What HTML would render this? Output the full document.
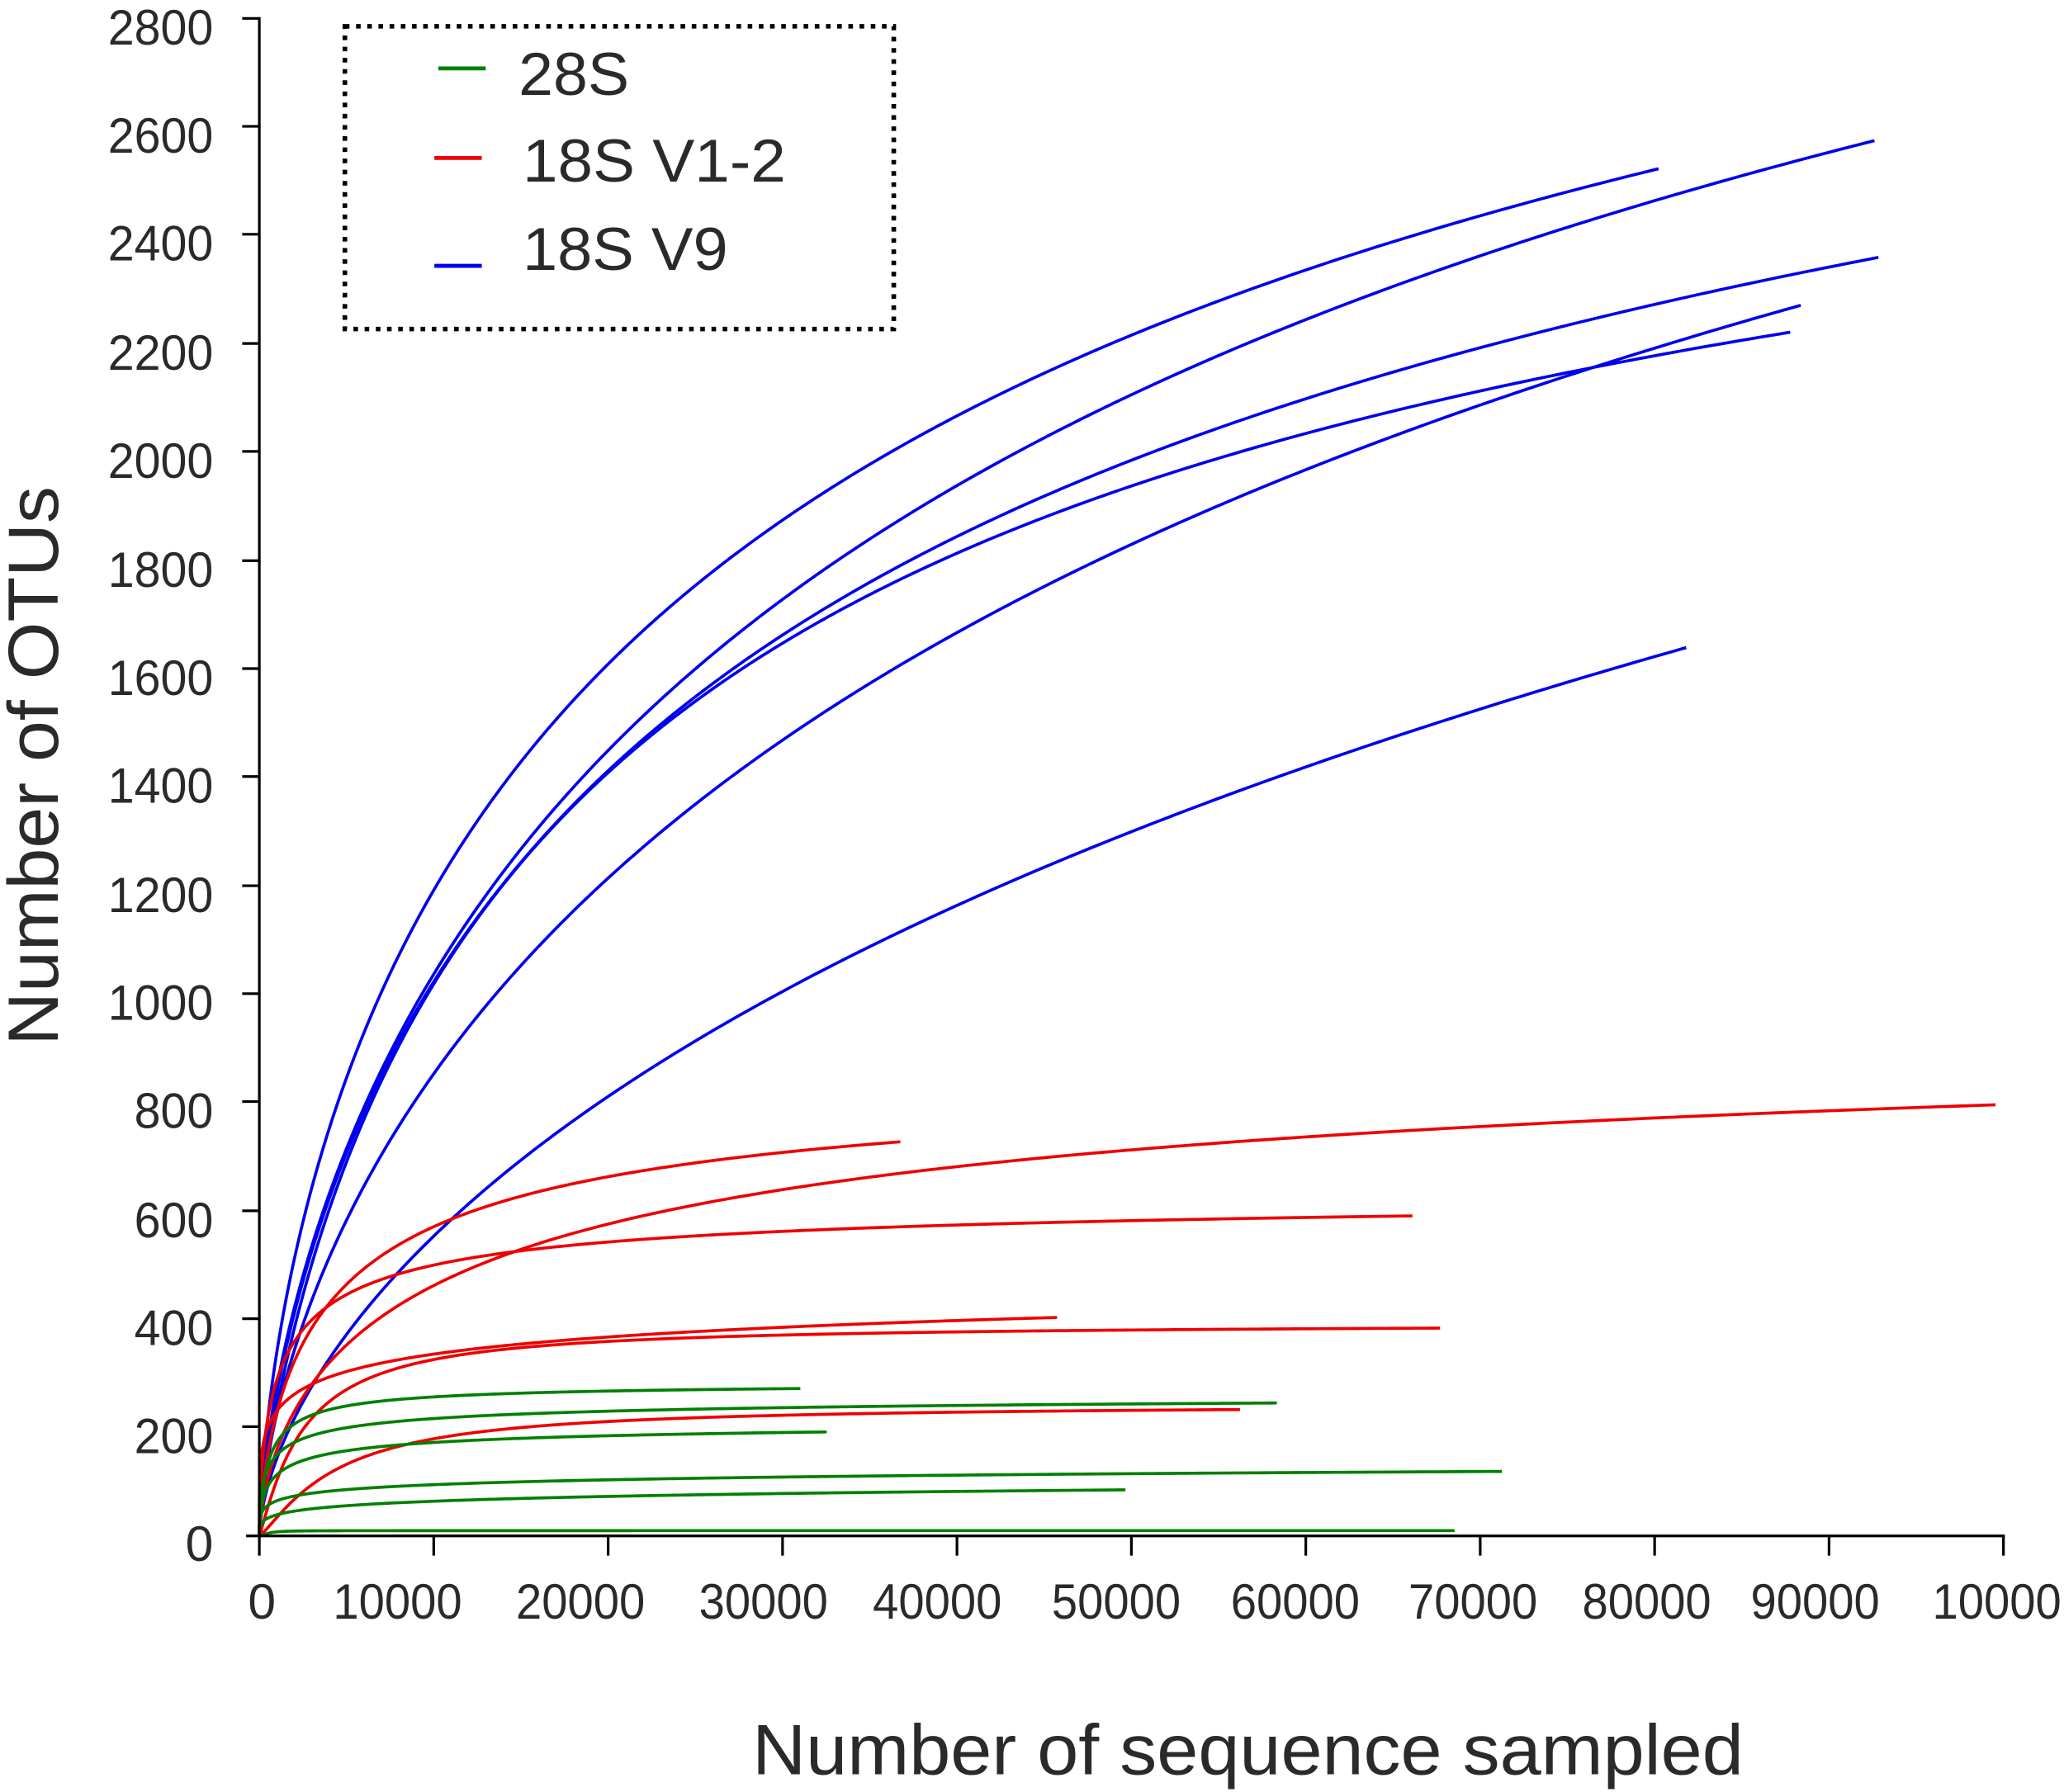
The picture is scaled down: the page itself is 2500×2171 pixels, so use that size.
<!DOCTYPE html>
<html><head><meta charset="utf-8"><style>
html,body{margin:0;padding:0;background:#fff;}
svg{display:block;}
text{font-family:"Liberation Sans",Arial,sans-serif;fill:#2a2a2a;}
</style></head><body>
<svg id="s" width="2500" height="2171" viewBox="0 0 1568 1361.6" preserveAspectRatio="none" xmlns="http://www.w3.org/2000/svg">
<rect width="1568" height="1362" fill="#fff"/>
<g id="curves" fill="none" stroke-width="2.3" stroke-linejoin="round" stroke-linecap="butt">
<polyline stroke="#0000ee" points="197,1167 221,972 261,822 300,738 356,632 412,553 468,508 552,436 664,352 804,276 944,220 1066,178 1260,128"/>
<polyline stroke="#0000ee" points="197,1167 230,972 300,794 356,699 440,587 535,497 636,424 720,374 832,318 944,268 1066,209 1250,155 1424,107"/>
<polyline stroke="#0000ee" points="197,1167 233,972 328,738 412,632 496,548 580,486 664,441 748,405 860,360 972,318 1066,284 1200,245 1427,195"/>
<polyline stroke="#0000ee" points="197,1167 234,974 328,749 412,646 496,559 580,497 692,436 804,388 916,349 1066,315 1190,285 1360,252"/>
<polyline stroke="#0000ee" points="197,1167 244,972 328,822 412,710 496,632 580,564 664,514 776,458 888,408 1000,363 1066,329 1190,282 1280,255 1368,232"/>
<polyline stroke="#0000ee" points="197,1167 300,972 356,912 440,844 524,791 608,744 692,704 804,660 916,620 1066,553 1170,523 1281,492"/>
<polyline stroke="#ee0000" points="197,1167 220,1040 245,995 272,972 311,945 356,920 440,892 552,875 684,868"/>
<polyline stroke="#ee0000" points="197,1167 250,1030 300,995 356,972 423,945 524,917 664,889 804,872 1066,854 1300,845 1516,840"/>
<polyline stroke="#ee0000" points="197,1167 225,1015 255,990 300,972 356,956 423,945 580,934 804,928 1073,924"/>
<polyline stroke="#ee0000" points="197,1167 225,1060 260,1040 330,1030 450,1018 600,1008 803,1001"/>
<polyline stroke="#ee0000" points="197,1167 250,1065 300,1040 380,1025 500,1018 700,1014 900,1011 1094,1009"/>
<polyline stroke="#ee0000" points="197,1167 260,1115 320,1095 400,1085 500,1078 700,1073 942,1071"/>
<polyline stroke="#008000" points="197,1167 220,1085 260,1068 330,1062 450,1058 608,1055"/>
<polyline stroke="#008000" points="197,1167 240,1090 300,1080 400,1074 600,1070 970,1066"/>
<polyline stroke="#008000" points="197,1167 230,1110 280,1100 400,1093 628,1088"/>
<polyline stroke="#008000" points="197,1167 250,1133 350,1127 600,1123 1141,1118"/>
<polyline stroke="#008000" points="197,1167 250,1145 350,1140 600,1135 855,1132"/>
<polyline stroke="#008000" points="197,1167 210,1164 400,1163 1105,1163"/>
</g>
<g stroke="#000" stroke-width="2" fill="none">
<line x1="197" y1="13" x2="197" y2="1168"/>
<line x1="187" y1="1167" x2="1523" y2="1167"/>
<path d="M184,14H197M184,96H197M184,178H197M184,261H197M184,343H197M184,426H197M184,508H197M184,590H197M184,673H197M184,755H197M184,837H197M184,920H197M184,1002H197M184,1084H197"/>
<path d="M197,1167V1182M329.5,1167V1182M462,1167V1182M594.5,1167V1182M727,1167V1182M859.5,1167V1182M992,1167V1182M1124.5,1167V1182M1257,1167V1182M1389.5,1167V1182M1522,1167V1182"/>
</g>
<g font-size="38" text-anchor="end">
<text x="162" y="34" textLength="80" lengthAdjust="spacingAndGlyphs">2800</text>
<text x="162" y="116" textLength="80" lengthAdjust="spacingAndGlyphs">2600</text>
<text x="162" y="198" textLength="80" lengthAdjust="spacingAndGlyphs">2400</text>
<text x="162" y="281" textLength="80" lengthAdjust="spacingAndGlyphs">2200</text>
<text x="162" y="363" textLength="80" lengthAdjust="spacingAndGlyphs">2000</text>
<text x="162" y="446" textLength="80" lengthAdjust="spacingAndGlyphs">1800</text>
<text x="162" y="528" textLength="80" lengthAdjust="spacingAndGlyphs">1600</text>
<text x="162" y="610" textLength="80" lengthAdjust="spacingAndGlyphs">1400</text>
<text x="162" y="693" textLength="80" lengthAdjust="spacingAndGlyphs">1200</text>
<text x="162" y="775" textLength="80" lengthAdjust="spacingAndGlyphs">1000</text>
<text x="162" y="857" textLength="60" lengthAdjust="spacingAndGlyphs">800</text>
<text x="162" y="940" textLength="60" lengthAdjust="spacingAndGlyphs">600</text>
<text x="162" y="1022" textLength="60" lengthAdjust="spacingAndGlyphs">400</text>
<text x="162" y="1104" textLength="60" lengthAdjust="spacingAndGlyphs">200</text>
<text x="162" y="1186">0</text>
</g>
<g font-size="38" text-anchor="middle">
<text x="199" y="1230">0</text>
<text x="302" y="1230" textLength="98" lengthAdjust="spacingAndGlyphs">10000</text>
<text x="441" y="1230" textLength="98" lengthAdjust="spacingAndGlyphs">20000</text>
<text x="580" y="1230" textLength="98" lengthAdjust="spacingAndGlyphs">30000</text>
<text x="712" y="1230" textLength="98" lengthAdjust="spacingAndGlyphs">40000</text>
<text x="848" y="1230" textLength="98" lengthAdjust="spacingAndGlyphs">50000</text>
<text x="984" y="1230" textLength="98" lengthAdjust="spacingAndGlyphs">60000</text>
<text x="1119" y="1230" textLength="98" lengthAdjust="spacingAndGlyphs">70000</text>
<text x="1251" y="1230" textLength="98" lengthAdjust="spacingAndGlyphs">80000</text>
<text x="1379" y="1230" textLength="98" lengthAdjust="spacingAndGlyphs">90000</text>
<text x="1517" y="1230" textLength="98" lengthAdjust="spacingAndGlyphs">10000</text>
</g>
<text x="948" y="1348" font-size="54" text-anchor="middle" textLength="753" lengthAdjust="spacingAndGlyphs">Number of sequence sampled</text>
<text transform="translate(44,582) rotate(-90)" font-size="54" text-anchor="middle" textLength="425" lengthAdjust="spacingAndGlyphs">Number of OTUs</text>
<rect x="262" y="20" width="417" height="230" fill="none" stroke="#000" stroke-width="3.5" stroke-dasharray="3.5,5"/>
<line x1="333" y1="52" x2="369" y2="52" stroke="#008000" stroke-width="3"/>
<line x1="330" y1="120" x2="366" y2="120" stroke="#ee0000" stroke-width="3"/>
<line x1="330" y1="202" x2="366" y2="202" stroke="#0000ee" stroke-width="3"/>
<g font-size="46">
<text x="394" y="72" textLength="84" lengthAdjust="spacingAndGlyphs">28S</text>
<text x="397" y="138" textLength="200" lengthAdjust="spacingAndGlyphs">18S V1-2</text>
<text x="397" y="205" textLength="156" lengthAdjust="spacingAndGlyphs">18S V9</text>
</g>
</svg>
<script>
(function(){
var ns="http://www.w3.org/2000/svg";
var X0=197,Y0=1167;
var pls=document.querySelectorAll("#curves polyline");
pls.forEach(function(pl){
  var raw=pl.getAttribute("points").trim().split(/\s+/).map(function(s){var a=s.split(",");return [+a[0]-X0,Y0-(+a[1])];});
  var pts=raw.filter(function(q){return q[0]>0;});
  var last=pts[pts.length-1];
  var best=null;
  for(var c=0.3;c<=1.8;c+=0.02){
    for(var lb=-1;lb<=3.8;lb+=0.02){
      var B=Math.pow(10,lb),Bc=Math.pow(B,c);
      var sfy=0,sff=0,f=[];
      for(var i=0;i<pts.length;i++){
        var xc=Math.pow(pts[i][0],c),fi=xc/(Bc+xc),w=(i==pts.length-1)?20:1;
        f.push(fi);sfy+=w*fi*pts[i][1];sff+=w*fi*fi;
      }
      var a=sfy/sff,err=0;
      for(var i=0;i<pts.length;i++){var w=(i==pts.length-1)?20:1;var e=pts[i][1]-a*f[i];err+=w*e*e;}
      if(!best||err<best.err)best={err:err,a:a,c:c,Bc:Bc};
    }
  }
  var d="",N=300;
  for(var k=0;k<=N;k++){
    var t=k/N,x=last[0]*t*t,xc=Math.pow(x,best.c);
    var y=best.a*xc/(best.Bc+xc);
    d+=(k?"L":"M")+(X0+x).toFixed(2)+","+(Y0-y).toFixed(2);
  }
  var path=document.createElementNS(ns,"path");
  path.setAttribute("d",d);
  path.setAttribute("stroke",pl.getAttribute("stroke"));
  pl.parentNode.replaceChild(path,pl);
});
})();
</script>
</body></html>
